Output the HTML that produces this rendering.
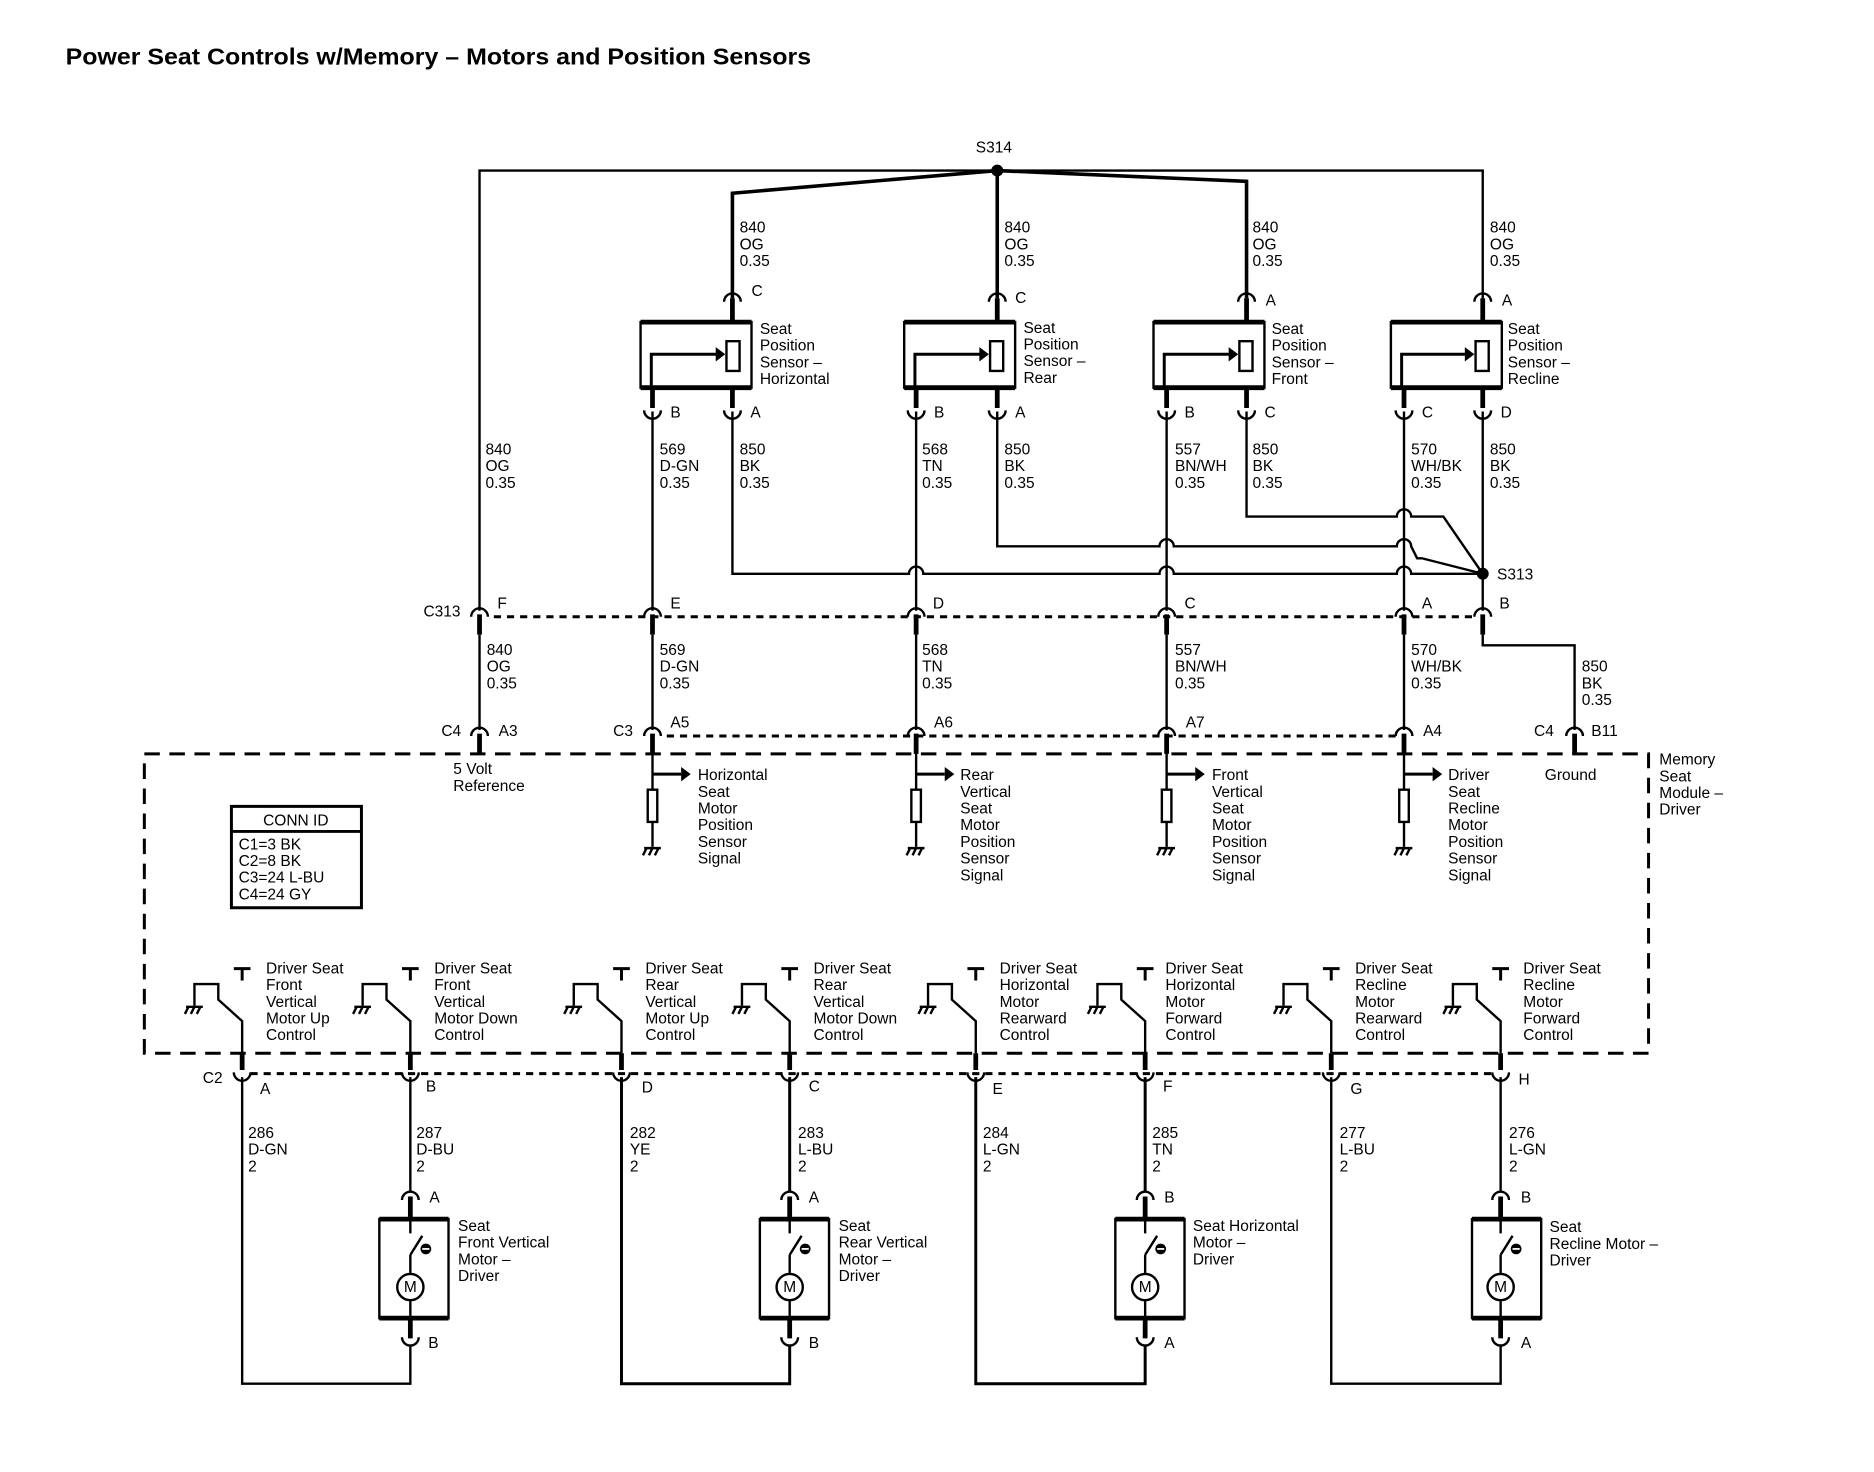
<!DOCTYPE html>
<html><head><meta charset="utf-8"><style>
html,body{margin:0;padding:0;background:#fff;}
svg{display:block;}
text{font-family:"Liberation Sans",Arial,sans-serif;font-size:13px;fill:#000;}
</style></head><body>
<svg width="1874" height="1472" viewBox="0 0 1571 1234" preserveAspectRatio="none" xmlns="http://www.w3.org/2000/svg">
<defs>
<path id="n" d="M-7,5 A7,7 0 0 1 7,5" fill="none" stroke="#000" stroke-width="2"/>
<path id="u" d="M-7,-5 A7,7 0 0 0 7,-5" fill="none" stroke="#000" stroke-width="2"/>
<g id="gnd" stroke="#000" stroke-width="2" fill="none"><path d="M-7,0 H7 M-5,0 l-3,6 M0,0 l-3,6 M5,0 l-3,6"/></g>
<g id="sw" stroke="#000" stroke-width="2" fill="none">
<path d="M-7,812 H7 M0,812 V822" stroke-width="2.5"/>
<path d="M-40,843 V825 H-20 V838 L0,856 V883"/>
<use href="#gnd" x="-40" y="844"/>
</g>
<g id="mot" stroke="#000" stroke-width="2" fill="none">
<path d="M0,1022 V1034 M0,1052 L10,1036 M0,1052 V1068 M0,1090 V1105"/>
<circle cx="0" cy="1079" r="11"/>
<circle cx="13" cy="1047" r="4.5" fill="#000" stroke="none"/>
<path d="M10,1047 H16" stroke="#fff" stroke-width="1.5"/>
</g>
<g id="sens" stroke="#000" fill="none">
<path d="M-4,662 h8 v27 h-8 z" stroke-width="2"/>
<path d="M0,618 V662 M0,689 V710" stroke-width="2"/>
<path d="M0,649 H24" stroke-width="2.5"/>
<path d="M24,643 L32,649 L24,655 z" fill="#000" stroke="none"/>
<use href="#gnd" x="0" y="711"/>
</g>
</defs>

<text x="55" y="54" style="font-size:19px;font-weight:bold" textLength="625" lengthAdjust="spacingAndGlyphs">Power Seat Controls w/Memory – Motors and Position Sensors</text>

<g stroke="#000" fill="none" stroke-width="2">
<path d="M402,512 V143 H1243 V250" />
<path d="M614,250 V162 L836,143 L1045,152 V250 M836,143 V250" stroke-width="3"/>
<path d="M537,270 h93 v55 h-93 z" />
<path d="M758,270 h93 v55 h-93 z" />
<path d="M967,270 h93 v55 h-93 z" />
<path d="M1166,270 h93 v55 h-93 z" />
<path d="M537,270 h93 M537,325 h93 M758,270 h93 M758,325 h93 M967,270 h93 M967,325 h93 M1166,270 h93 M1166,325 h93" stroke-width="4"/>
<path d="M609,286 h11 v25 h-11z M830,286 h11 v25 h-11z M1039,286 h11 v25 h-11z M1237,286 h11 v25 h-11z"/>
<path d="M546,325 V297 H601 M767,325 V297 H822 M976,325 V297 H1031 M1175,325 V297 H1229" stroke-width="2.5"/>
<path d="M614,250 V270 M836,250 V270 M1045,250 V270 M1243,250 V270 M547,325 V342 M614,325 V342 M768,325 V342 M836,325 V342 M978,325 V342 M1045,325 V342 M1177,325 V342 M1243,325 V342" stroke-width="4"/>
<path d="M547,345 V512 M768,345 V512 M978,345 V512 M1177,345 V512 M1243,345 V512"/>
<path d="M614,345 V481 H762 a6,6 0 0 1 12,0 H972 a6,6 0 0 1 12,0 H1171 a6,6 0 0 1 12,0 H1243"/>
<path d="M836,345 V458 H972 a6,6 0 0 1 12,0 H1171 a6,6 0 0 1 12,0 L1188,468 H1192 L1243,481"/>
<path d="M1045,345 V433 H1171 a6,6 0 0 1 12,0 H1210 L1243,481"/>
<path d="M414,517 H1236" stroke-dasharray="6,5" stroke-width="2.5"/>
<path d="M402,515 V532 M547,515 V532 M768,515 V532 M978,515 V532 M1177,515 V532 M1243,515 V532" stroke-width="4"/>
<path d="M402,532 V612 M547,532 V612 M768,532 V612 M978,532 V612 M1177,532 V612 M1243,532 V541 H1320 V612"/>
<path d="M559,617 H1170" stroke-dasharray="6,5" stroke-width="2.5"/>
<path d="M402,615 V632 M547,615 V632 M768,615 V632 M978,615 V632 M1177,615 V632 M1320,615 V632" stroke-width="4"/>
<path d="M121,632 H1382 V883 H121 Z" stroke-dasharray="13,8" stroke-width="2.5"/>
<path d="M194,676 h109 v85 h-109 z M194,697 h109" stroke-width="2.5"/>
<path d="M210,900 H1252" stroke-dasharray="6,5" stroke-width="2.5"/>
<path d="M203,883 V897 M344,883 V897 M521,883 V897 M662,883 V897 M818,883 V897 M960,883 V897 M1116,883 V897 M1258,883 V897" stroke-width="4"/>
<path d="M203,903 V1160 H344 V1127 M344,903 V999"/>
<path d="M521,903 V1160 H662 V1127 M662,903 V999" stroke-width="2.5"/>
<path d="M818,903 V1160 H960 V1127 M960,903 V999" stroke-width="2.5"/>
<path d="M1116,903 V1160 H1258 V1127 M1258,903 V999"/>
<path d="M318,1022 h58 v83 h-58z M637,1022 h58 v83 h-58z M935,1022 h58 v83 h-58z M1234,1022 h58 v83 h-58z"/>
<path d="M318,1022 h58 M318,1105 h58 M637,1022 h58 M637,1105 h58 M935,1022 h58 M935,1105 h58 M1234,1022 h58 M1234,1105 h58" stroke-width="4"/>
<path d="M344,1003 V1022 M344,1105 V1122 M662,1003 V1022 M662,1105 V1122 M960,1003 V1022 M960,1105 V1122 M1258,1003 V1022 M1258,1105 V1122" stroke-width="4"/>
</g>
<g fill="#000">
<path d="M600,291 L608,297 L600,303z M821,291 L829,297 L821,303z M1030,291 L1038,297 L1030,303z M1228,291 L1236,297 L1228,303z"/>
<circle cx="836" cy="143" r="5"/><circle cx="1243" cy="481" r="5"/>
</g>
<use href="#n" x="614" y="248"/><use href="#n" x="836" y="248"/><use href="#n" x="1045" y="248"/><use href="#n" x="1243" y="248"/>
<use href="#u" x="547" y="349"/><use href="#u" x="614" y="349"/><use href="#u" x="768" y="349"/><use href="#u" x="836" y="349"/><use href="#u" x="978" y="349"/><use href="#u" x="1045" y="349"/><use href="#u" x="1177" y="349"/><use href="#u" x="1243" y="349"/>
<use href="#n" x="402" y="512"/><use href="#n" x="547" y="512"/><use href="#n" x="768" y="512"/><use href="#n" x="978" y="512"/><use href="#n" x="1177" y="512"/><use href="#n" x="1243" y="512"/>
<use href="#n" x="402" y="612"/><use href="#n" x="547" y="612"/><use href="#n" x="768" y="612"/><use href="#n" x="978" y="612"/><use href="#n" x="1177" y="612"/><use href="#n" x="1320" y="612"/>
<use href="#u" x="203" y="904"/><use href="#u" x="344" y="904"/><use href="#u" x="521" y="904"/><use href="#u" x="662" y="904"/><use href="#u" x="818" y="904"/><use href="#u" x="960" y="904"/><use href="#u" x="1116" y="904"/><use href="#u" x="1258" y="904"/>
<use href="#n" x="344" y="1001"/><use href="#n" x="662" y="1001"/><use href="#n" x="960" y="1001"/><use href="#n" x="1258" y="1001"/>
<use href="#u" x="344" y="1126"/><use href="#u" x="662" y="1126"/><use href="#u" x="960" y="1126"/><use href="#u" x="1258" y="1126"/>
<use href="#sens" x="547"/><use href="#sens" x="768"/><use href="#sens" x="978"/><use href="#sens" x="1177"/>
<use href="#sw" x="203"/><use href="#sw" x="344"/><use href="#sw" x="521"/><use href="#sw" x="662"/><use href="#sw" x="818"/><use href="#sw" x="960"/><use href="#sw" x="1116"/><use href="#sw" x="1258"/>
<use href="#mot" x="344"/><use href="#mot" x="662"/><use href="#mot" x="960"/><use href="#mot" x="1258"/>
<g fill="#000" font-family="Liberation Sans" font-size="13">
<text x="344" y="1083" text-anchor="middle" font-size="11">M</text>
<text x="662" y="1083" text-anchor="middle" font-size="11">M</text>
<text x="960" y="1083" text-anchor="middle" font-size="11">M</text>
<text x="1258" y="1083" text-anchor="middle" font-size="11">M</text>
</g>

<text x="818" y="128">S314</text>
<text x="620" y="195">840</text><text x="620" y="209">OG</text><text x="620" y="223">0.35</text>
<text x="842" y="195">840</text><text x="842" y="209">OG</text><text x="842" y="223">0.35</text>
<text x="1050" y="195">840</text><text x="1050" y="209">OG</text><text x="1050" y="223">0.35</text>
<text x="1249" y="195">840</text><text x="1249" y="209">OG</text><text x="1249" y="223">0.35</text>
<text x="630" y="248">C</text><text x="851" y="254">C</text><text x="1061" y="256">A</text><text x="1259" y="256">A</text>
<text x="637" y="280">Seat</text><text x="637" y="294">Position</text><text x="637" y="308">Sensor –</text><text x="637" y="322">Horizontal</text>
<text x="858" y="279">Seat</text><text x="858" y="293">Position</text><text x="858" y="307">Sensor –</text><text x="858" y="321">Rear</text>
<text x="1066" y="280">Seat</text><text x="1066" y="294">Position</text><text x="1066" y="308">Sensor –</text><text x="1066" y="322">Front</text>
<text x="1264" y="280">Seat</text><text x="1264" y="294">Position</text><text x="1264" y="308">Sensor –</text><text x="1264" y="322">Recline</text>
<text x="562" y="350">B</text><text x="629" y="350">A</text><text x="783" y="350">B</text><text x="851" y="350">A</text><text x="993" y="350">B</text><text x="1060" y="350">C</text><text x="1192" y="350">C</text><text x="1258" y="350">D</text>
<text x="407" y="381">840</text><text x="407" y="395">OG</text><text x="407" y="409">0.35</text>
<text x="553" y="381">569</text><text x="553" y="395">D-GN</text><text x="553" y="409">0.35</text>
<text x="620" y="381">850</text><text x="620" y="395">BK</text><text x="620" y="409">0.35</text>
<text x="773" y="381">568</text><text x="773" y="395">TN</text><text x="773" y="409">0.35</text>
<text x="842" y="381">850</text><text x="842" y="395">BK</text><text x="842" y="409">0.35</text>
<text x="985" y="381">557</text><text x="985" y="395">BN/WH</text><text x="985" y="409">0.35</text>
<text x="1050" y="381">850</text><text x="1050" y="395">BK</text><text x="1050" y="409">0.35</text>
<text x="1183" y="381">570</text><text x="1183" y="395">WH/BK</text><text x="1183" y="409">0.35</text>
<text x="1249" y="381">850</text><text x="1249" y="395">BK</text><text x="1249" y="409">0.35</text>
<text x="1255" y="486">S313</text>
<text x="355" y="517">C313</text>
<text x="417" y="510">F</text><text x="562" y="510">E</text><text x="782" y="510">D</text><text x="993" y="510">C</text><text x="1192" y="510">A</text><text x="1257" y="510">B</text>
<text x="408" y="549">840</text><text x="408" y="563">OG</text><text x="408" y="577">0.35</text>
<text x="553" y="549">569</text><text x="553" y="563">D-GN</text><text x="553" y="577">0.35</text>
<text x="773" y="549">568</text><text x="773" y="563">TN</text><text x="773" y="577">0.35</text>
<text x="985" y="549">557</text><text x="985" y="563">BN/WH</text><text x="985" y="577">0.35</text>
<text x="1183" y="549">570</text><text x="1183" y="563">WH/BK</text><text x="1183" y="577">0.35</text>
<text x="1326" y="563">850</text><text x="1326" y="577">BK</text><text x="1326" y="591">0.35</text>
<text x="370" y="617">C4</text><text x="418" y="617">A3</text>
<text x="514" y="617">C3</text><text x="562" y="610">A5</text>
<text x="783" y="610">A6</text><text x="994" y="610">A7</text><text x="1193" y="617">A4</text>
<text x="1286" y="617">C4</text><text x="1334" y="617">B11</text>
<text x="1391" y="641">Memory</text><text x="1391" y="655">Seat</text><text x="1391" y="669">Module –</text><text x="1391" y="683">Driver</text>
<text x="380" y="649">5 Volt</text><text x="380" y="663">Reference</text>
<text x="585" y="654">Horizontal</text><text x="585" y="668">Seat</text><text x="585" y="682">Motor</text><text x="585" y="696">Position</text><text x="585" y="710">Sensor</text><text x="585" y="724">Signal</text>
<text x="805" y="654">Rear</text><text x="805" y="668">Vertical</text><text x="805" y="682">Seat</text><text x="805" y="696">Motor</text><text x="805" y="710">Position</text><text x="805" y="724">Sensor</text><text x="805" y="738">Signal</text>
<text x="1016" y="654">Front</text><text x="1016" y="668">Vertical</text><text x="1016" y="682">Seat</text><text x="1016" y="696">Motor</text><text x="1016" y="710">Position</text><text x="1016" y="724">Sensor</text><text x="1016" y="738">Signal</text>
<text x="1214" y="654">Driver</text><text x="1214" y="668">Seat</text><text x="1214" y="682">Recline</text><text x="1214" y="696">Motor</text><text x="1214" y="710">Position</text><text x="1214" y="724">Sensor</text><text x="1214" y="738">Signal</text>
<text x="1295" y="654">Ground</text>
<text x="248" y="692" text-anchor="middle">CONN ID</text>
<text x="200" y="712">C1=3 BK</text><text x="200" y="726">C2=8 BK</text><text x="200" y="740">C3=24 L-BU</text><text x="200" y="754">C4=24 GY</text>
<text x="223" y="816">Driver Seat</text><text x="223" y="830">Front</text><text x="223" y="844">Vertical</text><text x="223" y="858">Motor Up</text><text x="223" y="872">Control</text>
<text x="364" y="816">Driver Seat</text><text x="364" y="830">Front</text><text x="364" y="844">Vertical</text><text x="364" y="858">Motor Down</text><text x="364" y="872">Control</text>
<text x="541" y="816">Driver Seat</text><text x="541" y="830">Rear</text><text x="541" y="844">Vertical</text><text x="541" y="858">Motor Up</text><text x="541" y="872">Control</text>
<text x="682" y="816">Driver Seat</text><text x="682" y="830">Rear</text><text x="682" y="844">Vertical</text><text x="682" y="858">Motor Down</text><text x="682" y="872">Control</text>
<text x="838" y="816">Driver Seat</text><text x="838" y="830">Horizontal</text><text x="838" y="844">Motor</text><text x="838" y="858">Rearward</text><text x="838" y="872">Control</text>
<text x="977" y="816">Driver Seat</text><text x="977" y="830">Horizontal</text><text x="977" y="844">Motor</text><text x="977" y="858">Forward</text><text x="977" y="872">Control</text>
<text x="1136" y="816">Driver Seat</text><text x="1136" y="830">Recline</text><text x="1136" y="844">Motor</text><text x="1136" y="858">Rearward</text><text x="1136" y="872">Control</text>
<text x="1277" y="816">Driver Seat</text><text x="1277" y="830">Recline</text><text x="1277" y="844">Motor</text><text x="1277" y="858">Forward</text><text x="1277" y="872">Control</text>
<text x="170" y="908">C2</text>
<text x="218" y="917">A</text><text x="357" y="915">B</text><text x="538" y="916">D</text><text x="678" y="915">C</text><text x="832" y="917">E</text><text x="975" y="915">F</text><text x="1132" y="917">G</text><text x="1273" y="909">H</text>
<text x="208" y="954">286</text><text x="208" y="968">D-GN</text><text x="208" y="982">2</text>
<text x="349" y="954">287</text><text x="349" y="968">D-BU</text><text x="349" y="982">2</text>
<text x="528" y="954">282</text><text x="528" y="968">YE</text><text x="528" y="982">2</text>
<text x="669" y="954">283</text><text x="669" y="968">L-BU</text><text x="669" y="982">2</text>
<text x="824" y="954">284</text><text x="824" y="968">L-GN</text><text x="824" y="982">2</text>
<text x="966" y="954">285</text><text x="966" y="968">TN</text><text x="966" y="982">2</text>
<text x="1123" y="954">277</text><text x="1123" y="968">L-BU</text><text x="1123" y="982">2</text>
<text x="1265" y="954">276</text><text x="1265" y="968">L-GN</text><text x="1265" y="982">2</text>
<text x="360" y="1008">A</text><text x="678" y="1008">A</text><text x="976" y="1008">B</text><text x="1275" y="1008">B</text>
<text x="359" y="1130">B</text><text x="678" y="1130">B</text><text x="976" y="1130">A</text><text x="1275" y="1130">A</text>
<text x="384" y="1032">Seat</text><text x="384" y="1046">Front Vertical</text><text x="384" y="1060">Motor –</text><text x="384" y="1074">Driver</text>
<text x="703" y="1032">Seat</text><text x="703" y="1046">Rear Vertical</text><text x="703" y="1060">Motor –</text><text x="703" y="1074">Driver</text>
<text x="1000" y="1032">Seat Horizontal</text><text x="1000" y="1046">Motor –</text><text x="1000" y="1060">Driver</text>
<text x="1299" y="1033">Seat</text><text x="1299" y="1047">Recline Motor –</text><text x="1299" y="1061">Driver</text>
</svg>
</body></html>
